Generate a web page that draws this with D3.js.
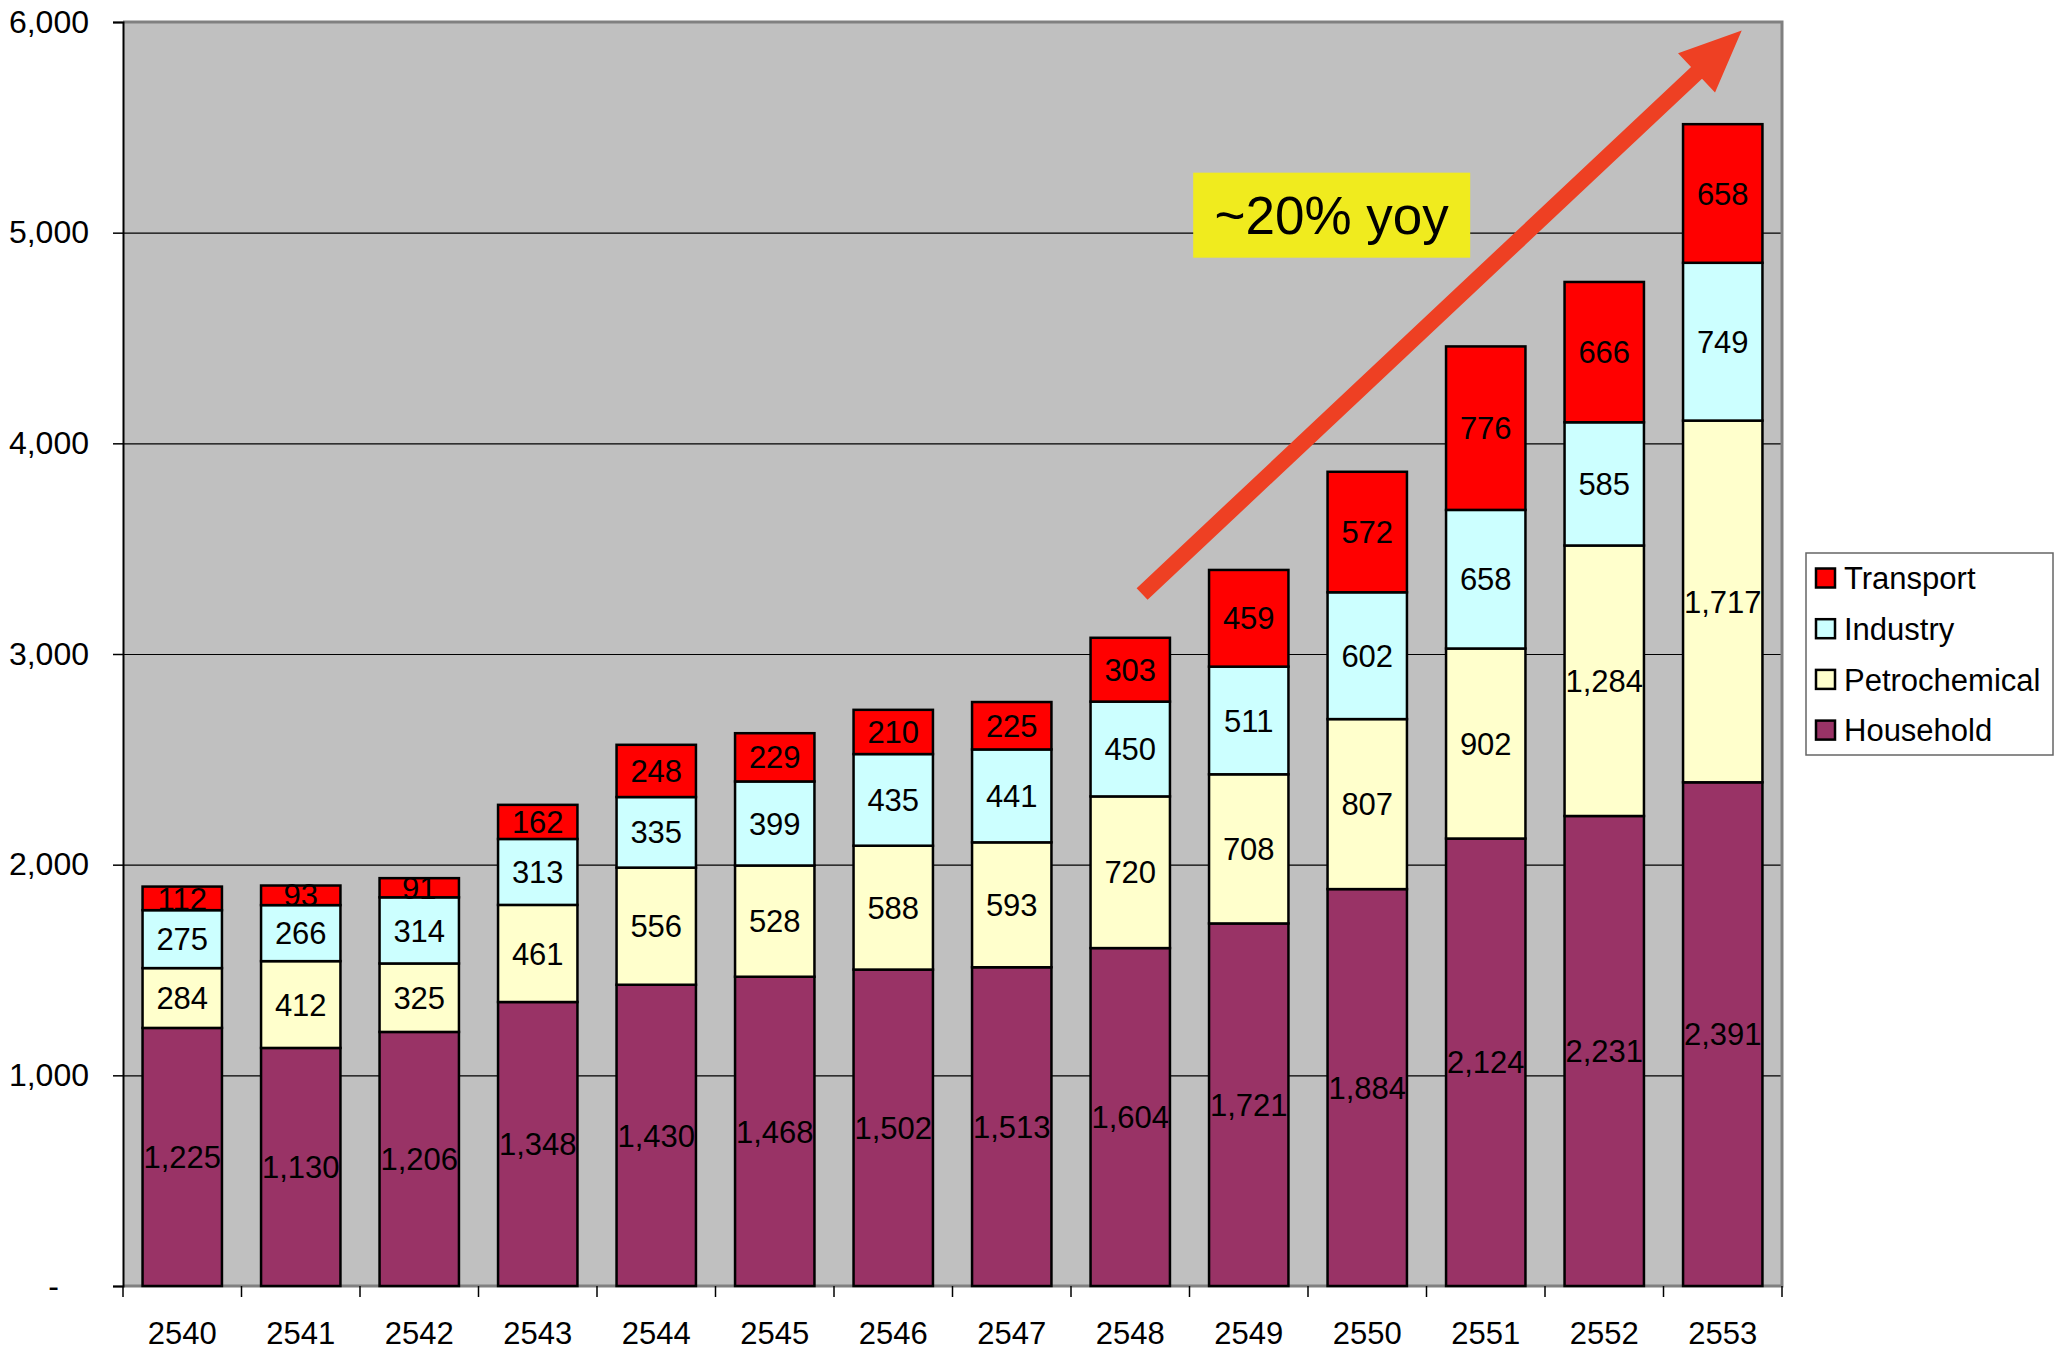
<!DOCTYPE html>
<html>
<head>
<meta charset="utf-8">
<script src="https://cdn.jsdelivr.net/npm/d3@7"></script>
<style>
    body { margin: 0; background: #fff; }
    text { font-family: "Liberation Sans", Arial, sans-serif; }
</style>
</head>
<body>
<svg class="barChart" width="2067" height="1354"></svg>
<script>
var years = ["2540", "2541", "2542", "2543", "2544", "2545", "2546", "2547", "2548", "2549", "2550", "2551", "2552", "2553"];
var household = [1225, 1130, 1206, 1348, 1430, 1468, 1502, 1513, 1604, 1721, 1884, 2124, 2231, 2391];
var petrochemical = [284, 412, 325, 461, 556, 528, 588, 593, 720, 708, 807, 902, 1284, 1717];
var industry = [275, 266, 314, 313, 335, 399, 435, 441, 450, 511, 602, 658, 585, 749];
var transport = [112, 93, 91, 162, 248, 229, 210, 225, 303, 459, 572, 776, 666, 658];
var seriesNames = ["Household", "Petrochemical", "Industry", "Transport"];
var yTicks = [0, 1000, 2000, 3000, 4000, 5000, 6000];
var annotationText = "~20% yoy";

renderGraph();

function renderGraph() {

    var svg = d3.select(".barChart"),
        margin = {
            top: 22,
            right: 285,
            bottom: 68,
            left: 123
        },
        width = +svg.attr("width") - margin.left - margin.right,
        height = +svg.attr("height") - margin.top - margin.bottom;

    var colors = {
        Household: "#993366",
        Petrochemical: "#FFFFCC",
        Industry: "#CCFFFF",
        Transport: "#FF0000"
    };

    var rows = years.map(function (y, i) {
        return {
            year: y,
            Household: household[i],
            Petrochemical: petrochemical[i],
            Industry: industry[i],
            Transport: transport[i]
        };
    });

    var x = d3.scaleBand().domain(years).range([0, width]).paddingInner(0.33).paddingOuter(0.165),
        y = d3.scaleLinear().domain([0, 6000]).range([height, 0]),
        xi = d3.scaleLinear().domain([0, years.length]).range([0, width]);

    var stack = d3.stack().keys(seriesNames)(rows);

    var g = svg.append("g")
        .attr("transform", "translate(" + margin.left + "," + margin.top + ")");

    g.append("rect")
        .attr("width", width)
        .attr("height", height)
        .attr("fill", "#C0C0C0");

    // gridlines
    g.selectAll(".grid")
        .data(yTicks.slice(1, -1))
        .enter().append("line")
        .attr("x1", 0)
        .attr("x2", width)
        .attr("y1", function (d) { return y(d) + 0.5; })
        .attr("y2", function (d) { return y(d) + 0.5; })
        .attr("stroke", "#000")
        .attr("stroke-width", 1.2);

    // frame top / right / bottom
    g.append("path")
        .attr("d", "M0," + height + "H" + width + "V0H0")
        .attr("fill", "none")
        .attr("stroke", "#808080")
        .attr("stroke-width", 3);

    // y axis
    var yAxis = g.append("g")
        .call(d3.axisLeft(y).tickValues(yTicks).tickSize(10).tickPadding(24)
            .tickFormat(function (d) { return d === 0 ? "-" : d3.format(",")(d); }));
    yAxis.select(".domain").attr("stroke", "#000").attr("stroke-width", 2);
    yAxis.selectAll(".tick line").attr("stroke", "#000").attr("stroke-width", 1.5);
    yAxis.selectAll("text").attr("font-size", 32).attr("fill", "#000");
    yAxis.selectAll(".tick text")
        .filter(function (d) { return d === 0; })
        .attr("x", -64);

    // x axis
    var xAxis = g.append("g")
        .attr("transform", "translate(0," + height + ")")
        .call(d3.axisBottom(x).tickSize(0).tickPadding(36));
    xAxis.select(".domain").remove();
    xAxis.selectAll("text").attr("font-size", 31).attr("fill", "#000");

    g.append("g")
        .attr("transform", "translate(0," + height + ")")
        .selectAll("line")
        .data(d3.range(years.length + 1))
        .enter().append("line")
        .attr("x1", function (d) { return xi(d); })
        .attr("x2", function (d) { return xi(d); })
        .attr("y1", 0)
        .attr("y2", 11)
        .attr("stroke", "#000")
        .attr("stroke-width", 1.5);

    // bars
    var layer = g.selectAll(".layer")
        .data(stack)
        .enter().append("g")
        .attr("class", "layer")
        .attr("fill", function (d) { return colors[d.key]; });

    layer.selectAll("rect")
        .data(function (d) { return d; })
        .enter().append("rect")
        .attr("x", function (d) { return x(d.data.year); })
        .attr("y", function (d) { return y(d[1]); })
        .attr("width", x.bandwidth())
        .attr("height", function (d) { return y(d[0]) - y(d[1]); })
        .attr("stroke", "#000")
        .attr("stroke-width", 2.5);

    layer.selectAll("text")
        .data(function (d) { return d; })
        .enter().append("text")
        .attr("x", function (d) { return x(d.data.year) + x.bandwidth() / 2; })
        .attr("y", function (d) { return (y(d[0]) + y(d[1])) / 2; })
        .attr("dy", "0.36em")
        .attr("text-anchor", "middle")
        .attr("font-size", 31)
        .attr("fill", "#000")
        .text(function (d) { return d3.format(",")(d[1] - d[0]); });

    // trend arrow
    var tail = [xi(8.6), y(3285)],
        tip = [xi(13.66), y(5960)];
    var dx = tip[0] - tail[0],
        dy = tip[1] - tail[1],
        len = Math.sqrt(dx * dx + dy * dy),
        ux = dx / len, uy = dy / len,
        nx = -uy, ny = ux;
    var headLen = 62, shaftW = 8, headW = 27;
    var bx = tip[0] - ux * headLen, by = tip[1] - uy * headLen;
    var pts = [
        [tail[0] + nx * shaftW, tail[1] + ny * shaftW],
        [bx + nx * shaftW, by + ny * shaftW],
        [bx + nx * headW, by + ny * headW],
        tip,
        [bx - nx * headW, by - ny * headW],
        [bx - nx * shaftW, by - ny * shaftW],
        [tail[0] - nx * shaftW, tail[1] - ny * shaftW]
    ];
    g.append("polygon")
        .attr("points", pts.map(function (p) { return p.join(","); }).join(" "))
        .attr("fill", "#EE4023");

    // annotation box
    var boxW = 277, boxH = 85;
    var ax = xi(10.2), ay = y(5083);
    g.append("rect")
        .attr("x", ax - boxW / 2)
        .attr("y", ay - boxH / 2)
        .attr("width", boxW)
        .attr("height", boxH)
        .attr("fill", "#F0EB1E");
    g.append("text")
        .attr("x", ax)
        .attr("y", ay)
        .attr("dy", "0.36em")
        .attr("text-anchor", "middle")
        .attr("font-size", 53)
        .attr("fill", "#000")
        .text(annotationText);

    // legend
    var legend = svg.append("g")
        .attr("transform", "translate(1806,553)");
    legend.append("rect")
        .attr("width", 247)
        .attr("height", 202)
        .attr("fill", "#fff")
        .attr("stroke", "#666")
        .attr("stroke-width", 1.5);

    var item = legend.selectAll(".item")
        .data(seriesNames.slice().reverse())
        .enter().append("g")
        .attr("class", "item")
        .attr("transform", function (d, i) { return "translate(0," + (25 + i * 50.7) + ")"; });
    item.append("rect")
        .attr("x", 10)
        .attr("y", -9.5)
        .attr("width", 19)
        .attr("height", 19)
        .attr("fill", function (d) { return colors[d]; })
        .attr("stroke", "#000")
        .attr("stroke-width", 2.5);
    item.append("text")
        .attr("x", 38)
        .attr("dy", "0.36em")
        .attr("font-size", 31)
        .attr("fill", "#000")
        .text(function (d) { return d; });
}
</script>
</body>
</html>
